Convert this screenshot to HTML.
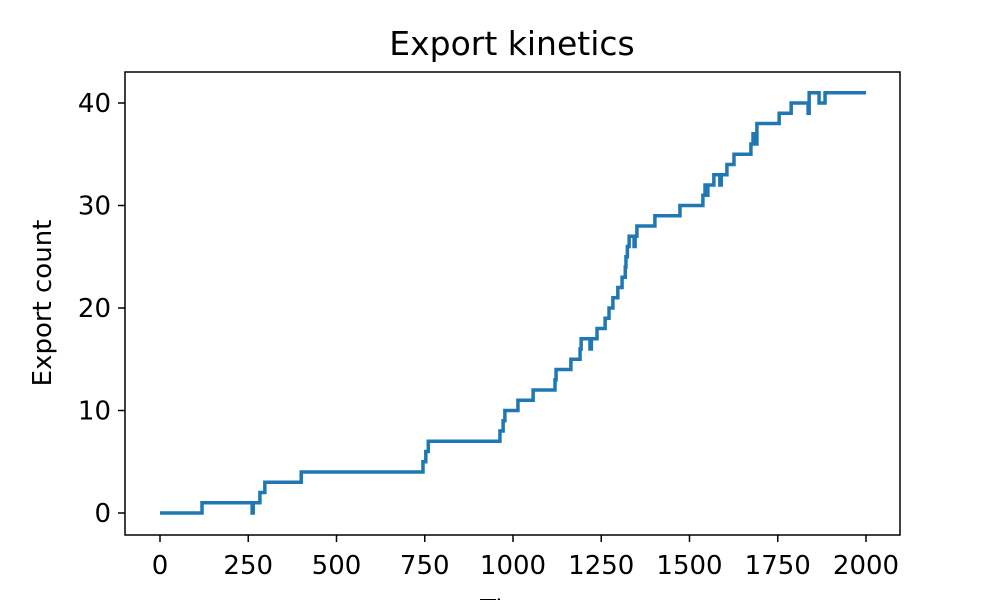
<!DOCTYPE html>
<html><head><meta charset="utf-8"><style>
body{margin:0;background:#fff;}
svg text{font-family:"DejaVu Sans","Liberation Sans",sans-serif;fill:#000;}
</style></head><body>
<svg id="chart" width="1000" height="600">
<rect width="1000" height="600" fill="#fff"/>
<text x="512" y="55" font-size="33" text-anchor="middle">Export kinetics</text>
<g id="xt"></g><g id="yt"></g>
<path id="line" fill="none" stroke="#1f77b4" stroke-width="3.5" stroke-linejoin="miter"/>
<rect x="125" y="72" width="775" height="463" fill="none" stroke="#000" stroke-width="1.5"/>
<text x="512" y="618" font-size="26" text-anchor="middle">Time</text>
<text transform="translate(51,303) rotate(-90)" font-size="26" text-anchor="middle">Export count</text>
</svg>
<script>
const times=[0,119,261,264,283,297,400,745,753,760,963,972,977,1014,1057,1119,1122,1164,1190,1193,1218,1222,1238,1261,1272,1283,1297,1309,1318,1320,1324,1329,1343,1346,1351,1402,1473,1538,1544,1548,1552,1569,1586,1590,1606,1626,1674,1680,1684,1691,1754,1788,1836,1839,1867,1884,2000];
const counts=[0,1,0,1,2,3,4,5,6,7,8,9,10,11,12,13,14,15,16,17,16,17,18,19,20,21,22,23,24,25,26,27,26,27,28,29,30,31,32,31,32,33,32,33,34,35,36,37,36,38,39,40,39,41,40,41,41];
const xTicks=[0,250,500,750,1000,1250,1500,1750,2000];
const yTicks=[0,10,20,30,40];
const X=t=>160+t*0.353, Y=v=>513-v*10.25;
const ns="http://www.w3.org/2000/svg";
let d="M"+X(times[0])+","+Y(counts[0]);
for(let i=1;i<times.length;i++){d+=" H"+X(times[i])+" V"+Y(counts[i]);}
document.getElementById('line').setAttribute('d',d);
const xt=document.getElementById('xt');
xTicks.forEach(t=>{
 const l=document.createElementNS(ns,'line');
 l.setAttribute('x1',X(t));l.setAttribute('x2',X(t));l.setAttribute('y1',535);l.setAttribute('y2',542);l.setAttribute('stroke','#000');l.setAttribute('stroke-width','1.5');
 
 
 xt.appendChild(l);
 const tx=document.createElementNS(ns,'text');
 tx.setAttribute('x',X(t));tx.setAttribute('y',574);tx.setAttribute('font-size','26');tx.setAttribute('text-anchor','middle');tx.textContent=t;
 
 
 xt.appendChild(tx);
});
const yt=document.getElementById('yt');
yTicks.forEach(v=>{
 const l=document.createElementNS(ns,'line');
 l.setAttribute('x1',118);l.setAttribute('x2',125);l.setAttribute('y1',Y(v));l.setAttribute('y2',Y(v));l.setAttribute('stroke','#000');l.setAttribute('stroke-width','1.5');
 
 
 yt.appendChild(l);
 const tx=document.createElementNS(ns,'text');
 tx.setAttribute('x',111);tx.setAttribute('y',Y(v)+9);tx.setAttribute('font-size','26');tx.setAttribute('text-anchor','end');tx.textContent=v;
 
 
 yt.appendChild(tx);
});
</script>
</body></html>
